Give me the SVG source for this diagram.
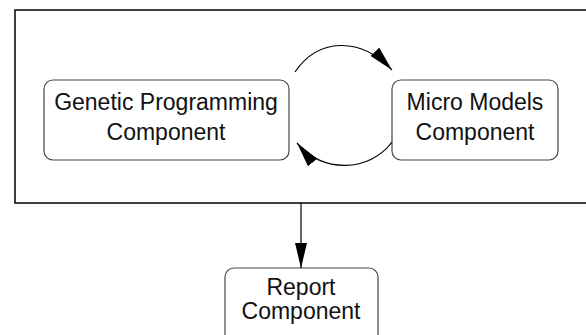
<svg xmlns="http://www.w3.org/2000/svg" width="586" height="335" viewBox="0 0 586 335">
<style>
.box{fill:#fff;stroke:#444;stroke-width:1.2}
.t{font-family:"Liberation Sans",Arial,sans-serif;font-size:23px;fill:#111;text-anchor:middle}
.c{fill:none;stroke:#000;stroke-width:1.2}
</style>
<defs>
<marker id="ah" markerWidth="25" markerHeight="12" refX="25" refY="6" orient="auto" markerUnits="userSpaceOnUse">
<path d="M0,0 L25,6 L0,12 Z" fill="#000"/>
</marker>
</defs>
<rect width="586" height="335" fill="#fff"/>
<g id="container">
<rect x="15" y="10" width="580" height="193" fill="none" stroke="#000" stroke-width="1.5"/>
</g>
<g id="gp">
<rect class="box" x="44" y="80" width="245" height="80" rx="9"/>
<text class="t" x="166" y="110">Genetic Programming</text>
<text class="t" x="166" y="140">Component</text>
</g>
<g id="micro">
<rect class="box" x="392" y="80" width="166" height="80" rx="9"/>
<text class="t" x="475" y="110">Micro Models</text>
<text class="t" x="475" y="140">Component</text>
</g>
<g id="report">
<rect class="box" x="225" y="268" width="153" height="80" rx="9"/>
<text class="t" x="301" y="295">Report</text>
<text class="t" x="301" y="319">Component</text>
</g>
<g id="connectors">
<path class="c" d="M295,72 C318,38 360,36 392,70" marker-end="url(#ah)"/>
<path class="c" d="M392,142 C370,172 322,174 297,143" marker-end="url(#ah)"/>
<path class="c" d="M301,203 L301,268" marker-end="url(#ah)"/>
</g>
</svg>
